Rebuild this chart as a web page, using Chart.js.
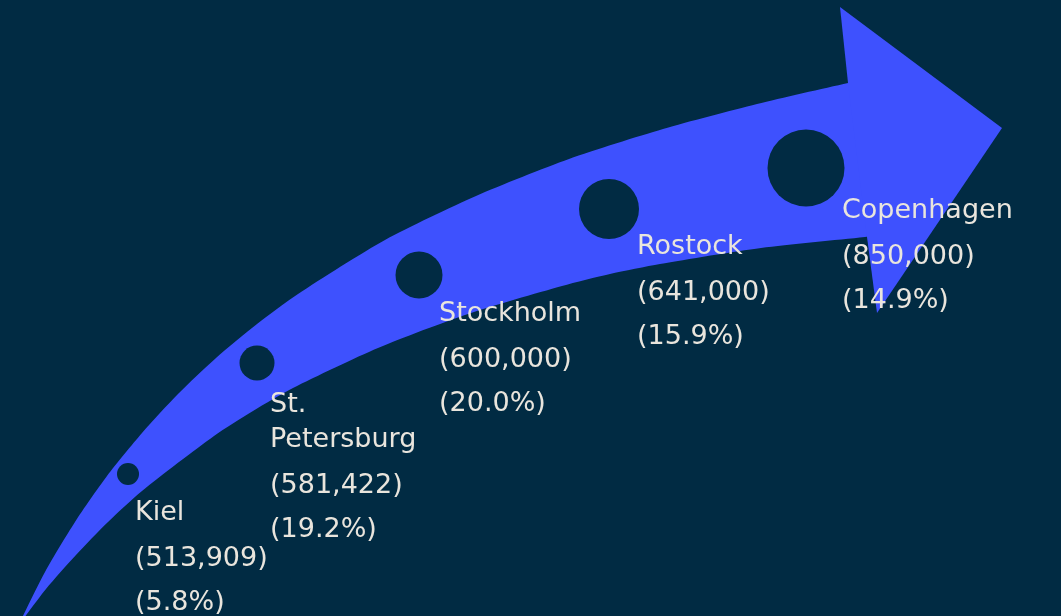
<!DOCTYPE html>
<html>
<head>
<meta charset="utf-8">
<title>Cities</title>
<script src="https://cdn.jsdelivr.net/npm/chart.js@4/dist/chart.umd.min.js"></script>
<style>
    html, body { margin: 0; padding: 0; background: #012B43; }
    #wrap { width: 1061px; height: 616px; position: relative; }
</style>
</head>
<body>
<div id="wrap"><canvas id="growth"></canvas></div>
<script>
// data
var cities = ['Kiel', 'St. Petersburg', 'Stockholm', 'Rostock', 'Copenhagen'];
var population = [513909, 581422, 600000, 641000, 850000];
var growthPct = [5.8, 19.2, 20.0, 15.9, 14.9];

// layout (canvas units, y goes down)
var markerX = [128, 257, 419, 609, 806];
var markerY = [474, 363, 275, 209, 168];
var markerR = [11, 17.5, 23.5, 30, 38.5];
var labelDx = [7, 13, 20, 28, 36];
var labelDy = [46, 49, 46, 45, 50];

// arrow outline
var shaftTop = [[18, 626], [45, 572], [75, 522], [107, 476], [142, 433], [178, 394], [216, 358], [257, 324],
    [298, 294], [385, 240], [476, 196], [569, 159], [663, 129], [757, 104], [848, 83], [900, 72]];
var shaftBottom = [[900, 233], [865, 237], [761, 248], [660, 264], [610, 274], [562, 286], [468, 314], [378, 348],
    [293, 388], [253, 411], [214, 436], [142, 491], [108, 522], [76, 555], [46, 589], [18, 626]];
var headPts = [[848, 83], [840, 7], [1002, 128], [877, 313], [867, 237]];

var BG = '#012B43';
var BLUE = '#3E51FE';
var TEXT = '#E9E5DD';

function toXY(list) {
    return list.map(function(p) { return { x: p[0], y: p[1] } });
}

var bubbles = [];
for (var i = 0; i < cities.length; i++) {
    bubbles.push({ x: markerX[i], y: markerY[i], r: markerR[i] });
}

var labelPlugin = {
    id: 'cityLabels',
    afterDatasetsDraw: function(chart) {
        var ctx = chart.ctx;
        var meta = chart.getDatasetMeta(2);
        ctx.save();
        ctx.fillStyle = TEXT;
        ctx.font = '27px "DejaVu Sans"';
        ctx.textAlign = 'left';
        ctx.textBaseline = 'alphabetic';
        meta.data.forEach(function(el, i) {
            var x = el.x + labelDx[i];
            var y = el.y + labelDy[i];
            // wrap long names
            var words = cities[i].split(' '), lines = [], cur = '';
            words.forEach(function(w) {
                var t = cur ? cur + ' ' + w : w;
                if (cur && ctx.measureText(t).width > 175) {
                    lines.push(cur);
                    cur = w;
                } else cur = t;
            });
            lines.push(cur);
            lines.forEach(function(l, k) {
                ctx.fillText(l, x, y);
                if (k < lines.length - 1) y += 35;
            });
            y += 46;
            ctx.fillText('(' + population[i].toLocaleString('en-US') + ')', x, y);
            y += 44;
            ctx.fillText('(' + growthPct[i].toFixed(1) + '%)', x, y);
        });
        ctx.restore();
    }
};

var ctx = document.getElementById('growth').getContext('2d');
var chart = new Chart(ctx, {
    type: 'scatter',
    data: {
        datasets: [{
            type: 'line',
            data: toXY(shaftTop.concat(shaftBottom)),
            borderWidth: 0,
            pointRadius: 0,
            backgroundColor: BLUE,
            fill: 'shape',
            tension: 0.25,
            order: 3
        }, {
            type: 'line',
            data: toXY(headPts),
            borderWidth: 0,
            pointRadius: 0,
            backgroundColor: BLUE,
            fill: 'shape',
            tension: 0,
            order: 2
        }, {
            type: 'bubble',
            data: bubbles,
            backgroundColor: BG,
            borderWidth: 0,
            order: 1
        }]
    },
    options: {
        responsive: true,
        maintainAspectRatio: false,
        animation: false,
        events: [],
        layout: { padding: 0, autoPadding: false },
        plugins: { legend: { display: false }, tooltip: { enabled: false } },
        scales: {
            x: { type: 'linear', min: 0, max: 1061, display: false },
            y: { type: 'linear', min: 0, max: 616, reverse: true, display: false }
        }
    },
    plugins: [labelPlugin]
});
</script>
</body>
</html>
